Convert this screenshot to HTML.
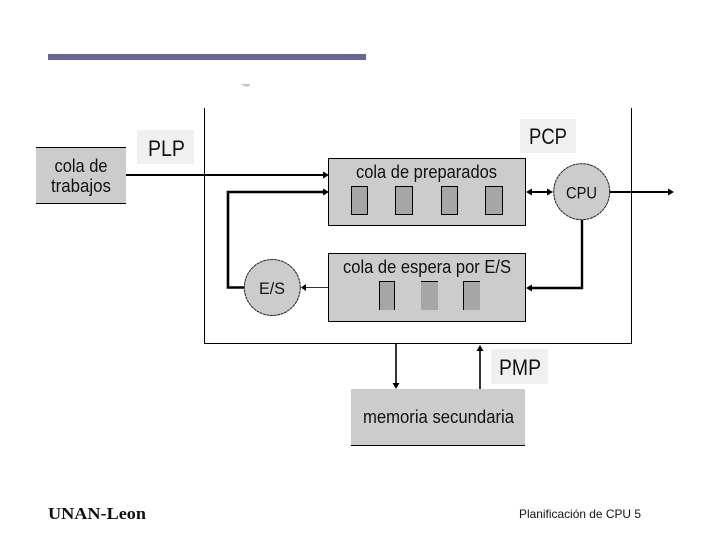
<!DOCTYPE html>
<html lang="es">
<head>
<meta charset="utf-8">
<title>Planificación de CPU</title>
<style>
html,body{margin:0;padding:0;background:#fff;width:720px;height:540px;overflow:hidden}
svg{display:block}
text{font-family:"Liberation Sans",sans-serif;fill:#111}
</style>
</head>
<body>
<svg width="720" height="540" viewBox="0 0 720 540" xmlns="http://www.w3.org/2000/svg">
<rect width="720" height="540" fill="#fff"/>
<rect x="48" y="54" width="318" height="6" fill="#666699"/>
<path d="M241 84 L250 84 L249 86.5 L245 86.5 Z" fill="#c4c4c4"/>

<!-- main frame -->
<path d="M204.5 108 V343.5 H631.5 V108" fill="none" stroke="#000" stroke-width="1"/>

<!-- label backgrounds -->
<rect x="137" y="130" width="57" height="34" fill="#f0f0f0"/>
<rect x="520" y="119" width="56" height="34" fill="#f0f0f0"/>
<rect x="491" y="349" width="57" height="35" fill="#f0f0f0"/>

<!-- cola de trabajos -->
<rect x="36" y="147" width="90" height="57" fill="#cccccc"/>
<path d="M36 147.5 H126 M36 203.5 H126" stroke="#000" stroke-width="1"/>

<!-- cola de preparados -->
<rect x="328.5" y="158.5" width="197" height="67" fill="#cccccc" stroke="#000" stroke-width="1"/>
<g fill="#a6a6a6" stroke="#000" stroke-width="1">
<rect x="351.5" y="186.5" width="16" height="28"/>
<rect x="395.5" y="186.5" width="17" height="28"/>
<rect x="441.5" y="186.5" width="16" height="28"/>
<rect x="485.5" y="186.5" width="17" height="28"/>
</g>

<!-- cola de espera -->
<rect x="328.5" y="253.5" width="197" height="68" fill="#cccccc" stroke="#000" stroke-width="1"/>
<rect x="379" y="281" width="16" height="29" fill="#a6a6a6"/>
<rect x="421" y="281" width="17" height="29" fill="#a6a6a6"/>
<rect x="463" y="281" width="17" height="29" fill="#a6a6a6"/>
<path d="M379.5 310 V281.5 H394.5 V310 M421 281.5 H438 M463.5 310 V281.5 H480" fill="none" stroke="#000" stroke-width="1"/>

<!-- memoria secundaria -->
<rect x="351" y="389" width="174" height="56" fill="#cccccc"/>
<path d="M351 445.5 H525" stroke="#000" stroke-width="1"/>

<!-- circles -->
<circle cx="581.7" cy="191.7" r="28" fill="#cccccc" stroke="#222" stroke-width="1" stroke-dasharray="3 0.6"/>
<circle cx="272.3" cy="287.5" r="28" fill="#cccccc" stroke="#222" stroke-width="1" stroke-dasharray="3 0.6"/>

<!-- connectors -->
<g fill="none" stroke="#000">
<path d="M126 175 H324" stroke-width="2"/>
<path d="M244 287.5 H228 V192 H324" stroke-width="2.6"/>
<path d="M530 192 H549" stroke-width="2"/>
<path d="M610 192 H669" stroke-width="2"/>
<path d="M582 220 V288 H530" stroke-width="2.4"/>
<path d="M328 287.5 H305" stroke="#333" stroke-width="1"/>
<path d="M396 344 V385" stroke-width="1.6"/>
<path d="M480 389 V349" stroke-width="1.6"/>
</g>
<g fill="#000">
<path d="M329 175 L323 171.5 V178.5 Z"/>
<path d="M329 192 L323 188.5 V195.5 Z"/>
<path d="M526 192 L532 188.5 V195.5 Z"/>
<path d="M553 192 L547 188.5 V195.5 Z"/>
<path d="M674 192 L668 188.5 V195.5 Z"/>
<path d="M526 288 L532 284.5 V291.5 Z"/>
<path d="M301 287.5 L306 284 V291 Z"/>
<path d="M396 389 L392.5 383 H399.5 Z"/>
<path d="M480 345 L476.5 351 H483.5 Z"/>
</g>

<!-- labels -->
<text x="81" y="172" font-size="18" text-anchor="middle" textLength="53" lengthAdjust="spacingAndGlyphs">cola de</text>
<text x="81" y="192" font-size="18" text-anchor="middle" textLength="60" lengthAdjust="spacingAndGlyphs">trabajos</text>
<text x="148" y="156" font-size="22" textLength="37" lengthAdjust="spacingAndGlyphs">PLP</text>
<text x="529" y="144" font-size="22" textLength="38" lengthAdjust="spacingAndGlyphs">PCP</text>
<text x="499" y="375" font-size="22" textLength="42" lengthAdjust="spacingAndGlyphs">PMP</text>
<text x="356" y="178" font-size="18" textLength="141" lengthAdjust="spacingAndGlyphs">cola de preparados</text>
<text x="343" y="273" font-size="18" textLength="168" lengthAdjust="spacingAndGlyphs">cola de espera por E/S</text>
<text x="566" y="198.5" font-size="17" textLength="31" lengthAdjust="spacingAndGlyphs">CPU</text>
<text x="259" y="294" font-size="17" textLength="26" lengthAdjust="spacingAndGlyphs">E/S</text>
<text x="363" y="423" font-size="18" textLength="151" lengthAdjust="spacingAndGlyphs">memoria secundaria</text>

<!-- footer -->
<text x="48" y="519" font-size="17" font-weight="bold" style="font-family:'Liberation Serif',serif" fill="#000" textLength="98" lengthAdjust="spacingAndGlyphs">UNAN-Leon</text>
<text x="519" y="518" font-size="12" textLength="122" lengthAdjust="spacingAndGlyphs">Planificación de CPU 5</text>
</svg>
</body>
</html>
